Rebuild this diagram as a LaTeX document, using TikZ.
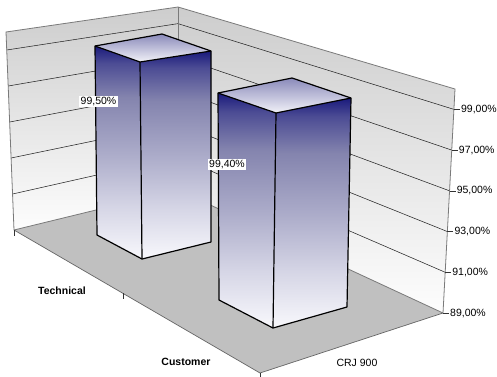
\documentclass[tikz,border=0pt]{standalone}
\usepackage{fontspec}
\setmainfont{Liberation Sans}
\usetikzlibrary{calc}

\definecolor{floorgray}{HTML}{C0C0C0}
\definecolor{edgegray}{HTML}{7A7A7A}
\definecolor{walltop}{HTML}{CDCDCD}
\definecolor{wallbot}{HTML}{FDFDFD}
\definecolor{fa}{HTML}{1A1A7C}
\definecolor{fb}{HTML}{4C4C94}
\definecolor{fc}{HTML}{8484AE}
\definecolor{fd}{HTML}{ABABC9}
\definecolor{fe}{HTML}{D6D6E6}
\definecolor{ff}{HTML}{F8F8FC}
\definecolor{ta}{HTML}{8A8ABA}
\definecolor{tb}{HTML}{F2F2F8}

% column faces: navy at the top fading to white
\pgfdeclareverticalshading{colface}{100bp}{color(0bp)=(ff); color(25bp)=(ff);
  color(37bp)=(fe); color(50bp)=(fd); color(63bp)=(fc); color(71bp)=(fb);
  color(75bp)=(fa); color(100bp)=(fa)}
% column tops: darker at the back, light at the front
\pgfdeclareverticalshading{coltop}{100bp}{color(0bp)=(tb); color(25bp)=(tb);
  color(75bp)=(ta); color(100bp)=(ta)}
% walls: grey at the top, nearly white at the floor
\pgfdeclareverticalshading{wallshade}{100bp}{color(0bp)=(wallbot); color(25bp)=(wallbot);
  color(75bp)=(walltop); color(100bp)=(walltop)}

\tikzset{
  gridline/.style={draw=black!85, line width=0.55pt},
  walledge/.style={draw=edgegray, line width=0.8pt},
  flooredge/.style={draw=black!60, line width=0.7pt},
  tickmark/.style={draw=black!80, line width=0.6pt},
  coledge/.style={draw=black, line width=1.2pt, line join=round},
  vlabel/.style={fill=white, inner sep=1.6pt, font=\fontsize{10.5}{12}\selectfont},
  axlabel/.style={anchor=west, inner sep=0pt, font=\fontsize{10.5}{12}\selectfont},
  catlabel/.style={inner sep=0pt, font=\bfseries\fontsize{10.5}{12}\selectfont},
}

% \drawcolumn{TL}{TB}{TR}{TF}{BL}{BF}{BR}
\newcommand\drawcolumn[7]{%
  \shade[shading=colface] (#1) -- (#4) -- (#6) -- (#5) -- cycle;
  \shade[shading=colface] (#4) -- (#3) -- (#7) -- (#6) -- cycle;
  \shade[shading=coltop] (#1) -- (#2) -- (#3) -- (#4) -- cycle;
  \draw[coledge] (#5) -- (#1) -- (#2) -- (#3) -- (#7) -- (#6) -- cycle;
  \draw[coledge] (#1) -- (#4) -- (#3);
  \draw[coledge] (#4) -- (#6);
}

\begin{document}
\begin{tikzpicture}[x=1pt, y=-1pt]
\useasboundingbox (0,0) rectangle (497,376);
\fill[white] (0,0) rectangle (497,376);

% frame of the chart
\coordinate (LB) at (14,230);
\coordinate (LT) at (6,32);
\coordinate (CB) at (178,190);
\coordinate (CT) at (178,7);
\coordinate (RB) at (443,313);
\coordinate (RT) at (455,89);
\coordinate (FF) at (260,373);

% walls and floor
\shade[shading=wallshade] (LB) -- (LT) -- (CT) -- (CB) -- cycle;
\shade[shading=wallshade] (CB) -- (CT) -- (RT) -- (RB) -- cycle;
\fill[floorgray] (LB) -- (CB) -- (RB) -- (FF) -- cycle;

% grid lines every 2 %
\foreach \v in {91,93,95,97,99} {
  \pgfmathsetmacro\t{(\v-89)/11}
  \draw[gridline] ($(LB)!\t!(LT)$) -- ($(CB)!\t!(CT)$) -- ($(RB)!\t!(RT)$);
}

% wall and floor edges
\draw[walledge] (LB) -- (LT) -- (CT) -- (RT) -- (RB);
\draw[walledge] (CT) -- (CB);
\draw[walledge] (LB) -- (CB) -- (RB);
\draw[flooredge] (LB) -- (FF) -- (RB);

% value axis
\foreach \v in {89,91,93,95,97,99} {
  \pgfmathsetmacro\t{(\v-89)/11}
  \coordinate (ax\v) at ($(RB)!\t!(RT)$);
  \draw[tickmark] (ax\v) -- ++(6,0);
  \node[axlabel] (axl\v) at ($(ax\v)+(7,0)$) {\v,00\%};
}

% category ticks along the front edge
\coordinate (cat0) at (LB);
\coordinate (cat1) at ($(LB)!0.443!(FF)$);
\coordinate (cat2) at (FF);
\foreach \c in {cat0,cat1,cat2} {
  \draw[tickmark] (\c) -- ++(0,6);
}

% columns
\coordinate (a1) at (95,46);  \coordinate (a2) at (162,34);
\coordinate (a3) at (211,51); \coordinate (a4) at (140,62);
\coordinate (a5) at (97,235); \coordinate (a6) at (142,259);
\coordinate (a7) at (211,242);
\drawcolumn{a1}{a2}{a3}{a4}{a5}{a6}{a7}

\coordinate (b1) at (218,93);  \coordinate (b2) at (292,78);
\coordinate (b3) at (351,98);  \coordinate (b4) at (276,113);
\coordinate (b5) at (219,300); \coordinate (b6) at (273,328);
\coordinate (b7) at (347,307);
\drawcolumn{b1}{b2}{b3}{b4}{b5}{b6}{b7}

% value labels
\node[vlabel] (val1) at (98.5,101.5) {99,50\%};
\node[vlabel] (val2) at (227,164.5) {99,40\%};

% category and series labels
\node[catlabel] (tech) at (62,291) {Technical};
\node[catlabel] (cust) at (186,362) {Customer};
\node[inner sep=0pt, font=\fontsize{10.5}{12}\selectfont] (crj) at (357,363) {CRJ 900};
\end{tikzpicture}
\end{document}
